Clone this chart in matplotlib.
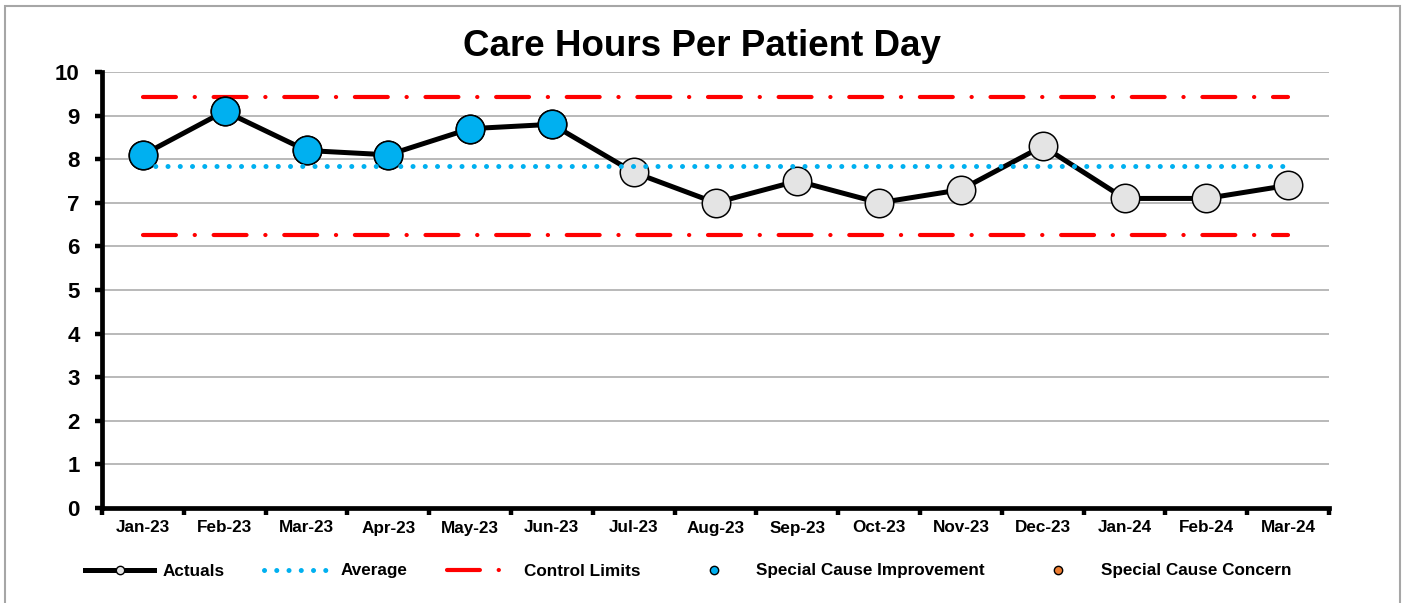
import numpy as np
import matplotlib
matplotlib.use("Agg")
import matplotlib.pyplot as plt
from matplotlib.lines import Line2D
from matplotlib.patches import Rectangle

plt.rcParams['font.family'] = ['Liberation Sans', 'DejaVu Sans']
plt.rcParams['font.weight'] = 'bold'

# ---- data ----
months = ["Jan-23", "Feb-23", "Mar-23", "Apr-23", "May-23", "Jun-23", "Jul-23",
          "Aug-23", "Sep-23", "Oct-23", "Nov-23", "Dec-23", "Jan-24", "Feb-24", "Mar-24"]
actuals = [8.1, 9.1, 8.2, 8.1, 8.7, 8.8, 7.7, 7.0, 7.5, 7.0, 7.3, 8.3, 7.1, 7.1, 7.4]
improvement_flag = [1, 1, 1, 1, 1, 1, 0, 0, 0, 0, 0, 0, 0, 0, 0]
concern_flag = [0] * 15
average = 7.84
upper_limit = 9.42
lower_limit = 6.26
y_ticks = list(range(0, 11))

# ---- styling ----
BLUE = "#00B0F0"
GRAY_FACE = "#E4E4E4"
ORANGE = "#ED7D31"
RED = "#FF0000"
GRID = "#A6A6A6"

fig = plt.figure(figsize=(14.05, 6.03), dpi=100)
ax = fig.add_axes([102 / 1405, 95 / 603, 1227 / 1405, 436 / 603])

x = np.arange(len(months))
act = np.array(actuals, dtype=float)
imp = np.where(np.array(improvement_flag) == 1, act, np.nan)
con = np.where(np.array(concern_flag) == 1, act, np.nan)

# control limits (dash-dot)
cl_style = (0, (7.9, 4.5, 0.05, 4.5))
ax.plot(x, np.full(len(x), upper_limit), color=RED, lw=3.0, linestyle=cl_style,
        dash_capstyle='round', zorder=2)
ax.plot(x, np.full(len(x), lower_limit), color=RED, lw=3.0, linestyle=cl_style,
        dash_capstyle='round', zorder=2)

# actuals
MS = 20.5
ax.plot(x, act, color="black", lw=3.6, marker="o", markersize=MS,
        markerfacecolor=GRAY_FACE, markeredgecolor="black", markeredgewidth=1.1,
        zorder=3)
ax.plot(x, imp, linestyle="none", marker="o", markersize=MS,
        markerfacecolor=BLUE, markeredgecolor="black", markeredgewidth=1.1, zorder=3.5)
ax.plot(x, con, linestyle="none", marker="o", markersize=MS,
        markerfacecolor=ORANGE, markeredgecolor="black", markeredgewidth=1.1, zorder=3.5)

# average (dotted)
ax.plot(x, np.full(len(x), average), color=BLUE, lw=3.6,
        linestyle=(0, (0.01, 2.44)), dash_capstyle='round', zorder=4)

# axes
ax.set_xlim(-0.5, len(months) - 0.5)
ax.set_ylim(0, 10)
ax.set_yticks(y_ticks)
ax.set_yticklabels([str(v) for v in y_ticks], fontsize=16, fontweight='bold')
ax.set_xticks(x)
ax.set_xticklabels(months, fontsize=12.3, fontweight='bold')
ax.set_xticks(np.arange(-0.5, len(months), 1.0), minor=True)
ax.tick_params(axis='x', which='major', length=0, pad=9)
ax.tick_params(axis='x', which='minor', length=5, width=3.2, direction='out', color='black')
ax.tick_params(axis='y', which='major', length=5, width=3.2, direction='out', pad=11)

for s in ['top', 'right']:
    ax.spines[s].set_visible(False)
for s in ['left', 'bottom']:
    ax.spines[s].set_linewidth(3.4)
    ax.spines[s].set_color('black')
    ax.spines[s].set_capstyle('projecting')

ax.yaxis.grid(True, color=GRID, lw=1.1)
ax.set_axisbelow(True)

fig.text(0.4995, 1 - 46 / 603, "Care Hours Per Patient Day", ha='center', va='center',
         fontsize=26.5, fontweight='bold')

handles = [
    Line2D([], [], color='black', lw=3.6, marker='o', markersize=6,
           markerfacecolor=GRAY_FACE, markeredgecolor='black', markeredgewidth=1),
    Line2D([], [], color=BLUE, lw=3.6, linestyle=(0, (0.01, 2.44)), dash_capstyle='round'),
    Line2D([], [], color=RED, lw=3.0, linestyle=(0, (7.9, 4.5, 0.05, 4.5)), dash_capstyle='round'),
    Line2D([], [], linestyle='none', marker='o', markersize=6,
           markerfacecolor=BLUE, markeredgecolor='black', markeredgewidth=1),
    Line2D([], [], linestyle='none', marker='o', markersize=6,
           markerfacecolor=ORANGE, markeredgecolor='black', markeredgewidth=1),
]
labels = ["Actuals", "Average", "Control Limits", "Special Cause Improvement",
          "Special Cause Concern"]
leg = fig.legend(handles, labels, loc='center', bbox_to_anchor=(0.49, 32 / 603),
                 ncol=5, frameon=False, prop={'size': 12.3, 'weight': 'bold'},
                 handlelength=4.0, handletextpad=0.5, columnspacing=2.3)

# outer chart border
fig.add_artist(Rectangle((5 / 1405, -0.05), 1395 / 1405, 1 - 6 / 603 + 0.05,
                         transform=fig.transFigure, fill=False, edgecolor="#A6A6A6",
                         lw=1.5, clip_on=False))

fig.savefig("out.png", dpi=100)
